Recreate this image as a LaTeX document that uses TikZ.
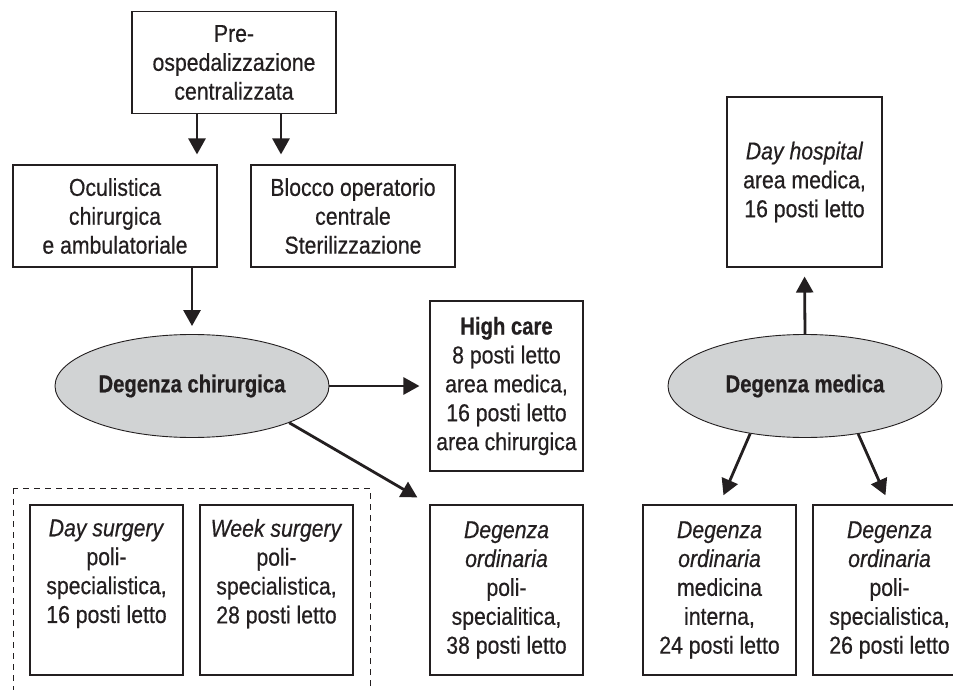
\documentclass[tikz,border=0pt]{standalone}
\usepackage{fontspec}
\setmainfont{Liberation Sans}[FakeStretch=0.87,FakeBold=0.5,BoldFeatures={FakeStretch=0.83,FakeBold=0.6}]
\usetikzlibrary{shapes.geometric,arrows.meta}
\definecolor{ink}{HTML}{231F20}
\definecolor{ovalgrey}{HTML}{D1D3D4}

\begin{document}
\begin{tikzpicture}[x=1bp,y=-1bp,
		txt/.style={font=\fontsize{24.5}{29}\selectfont, align=center, text=ink},
		ward/.style={txt, draw=ink, line width=1.1bp, inner sep=0pt, minimum width=153bp, minimum height=170bp},
		unit/.style={ward, minimum width=204bp, minimum height=102bp},
		hub/.style={txt, ellipse, draw=ink, fill=ovalgrey, line width=0.9bp, inner sep=0pt,
			minimum width=274bp, minimum height=103bp, font=\fontsize{24.5}{29}\selectfont\bfseries},
		flow/.style={draw=ink, line width=2.8bp, -{Triangle[width=17bp,length=16bp]}}]
		%%Frame
		\useasboundingbox (0,0) rectangle (953,690);
		%%Top
		\node[unit] (pre) at (234,62.5) {Pre-\\ospedalizzazione\\centralizzata};
		\node[unit] (ocul) at (115,216) {Oculistica\\chirurgica\\e ambulatoriale};
		\node[unit] (blocco) at (353,216) {Blocco operatorio\\centrale\\Sterilizzazione};
		%%Surgical side
		\node[hub] (chir) at (192,386) {Degenza chirurgica};
		\node[ward] (high) at (506.5,386) {\textbf{High care}\\8 posti letto\\area medica,\\16 posti letto\\area chirurgica};
		\node[ward] (dayS) at (106.5,590) {\textit{Day surgery}\\poli-\\specialistica,\\16 posti letto\\\strut};
		\node[ward] (weekS) at (276.5,590) {\textit{Week surgery}\\poli-\\specialistica,\\28 posti letto\\\strut};
		\node[ward] (ordS) at (506.5,590) {\textit{Degenza}\\\textit{ordinaria}\\poli-\\specialitica,\\38 posti letto};
		\draw[ink, line width=1bp, dash pattern=on 6bp off 5bp] (13,488) rectangle (370,700);
		%%Medical side
		\node[hub] (med) at (805,386) {Degenza medica};
		\node[ward, minimum width=155bp] (dayH) at (804.5,182) {\textit{Day hospital}\\area medica,\\16 posti letto};
		\node[ward] (ordM1) at (719.5,590) {\textit{Degenza}\\\textit{ordinaria}\\medicina\\interna,\\24 posti letto};
		\node[ward] (ordM2) at (889.5,590) {\textit{Degenza}\\\textit{ordinaria}\\poli-\\specialistica,\\26 posti letto};
		%%Arrows
		\draw[flow, shorten >=10bp] ([xshift=-37bp]pre.south) -- ([xshift=-37bp]pre.south |- ocul.north);
		\draw[flow, shorten >=10bp] ([xshift=47bp]pre.south) -- ([xshift=47bp]pre.south |- blocco.north);
		\draw[flow, shorten >=8bp] (ocul.south -| chir.north) -- (chir.north);
		\draw[flow, shorten >=10bp] (chir.east) -- (chir.east -| high.west);
		\draw[flow, shorten >=14bp] (chir.south east) -- (ordS.north west);
		\draw[flow, shorten >=9bp] (med.north) -- (dayH.south);
		\draw[flow, shorten >=10bp] (med.-139) -- (ordM1.north);
		\draw[flow, shorten >=10bp] (med.-42) -- (ordM2.north);
\end{tikzpicture}
\end{document}
